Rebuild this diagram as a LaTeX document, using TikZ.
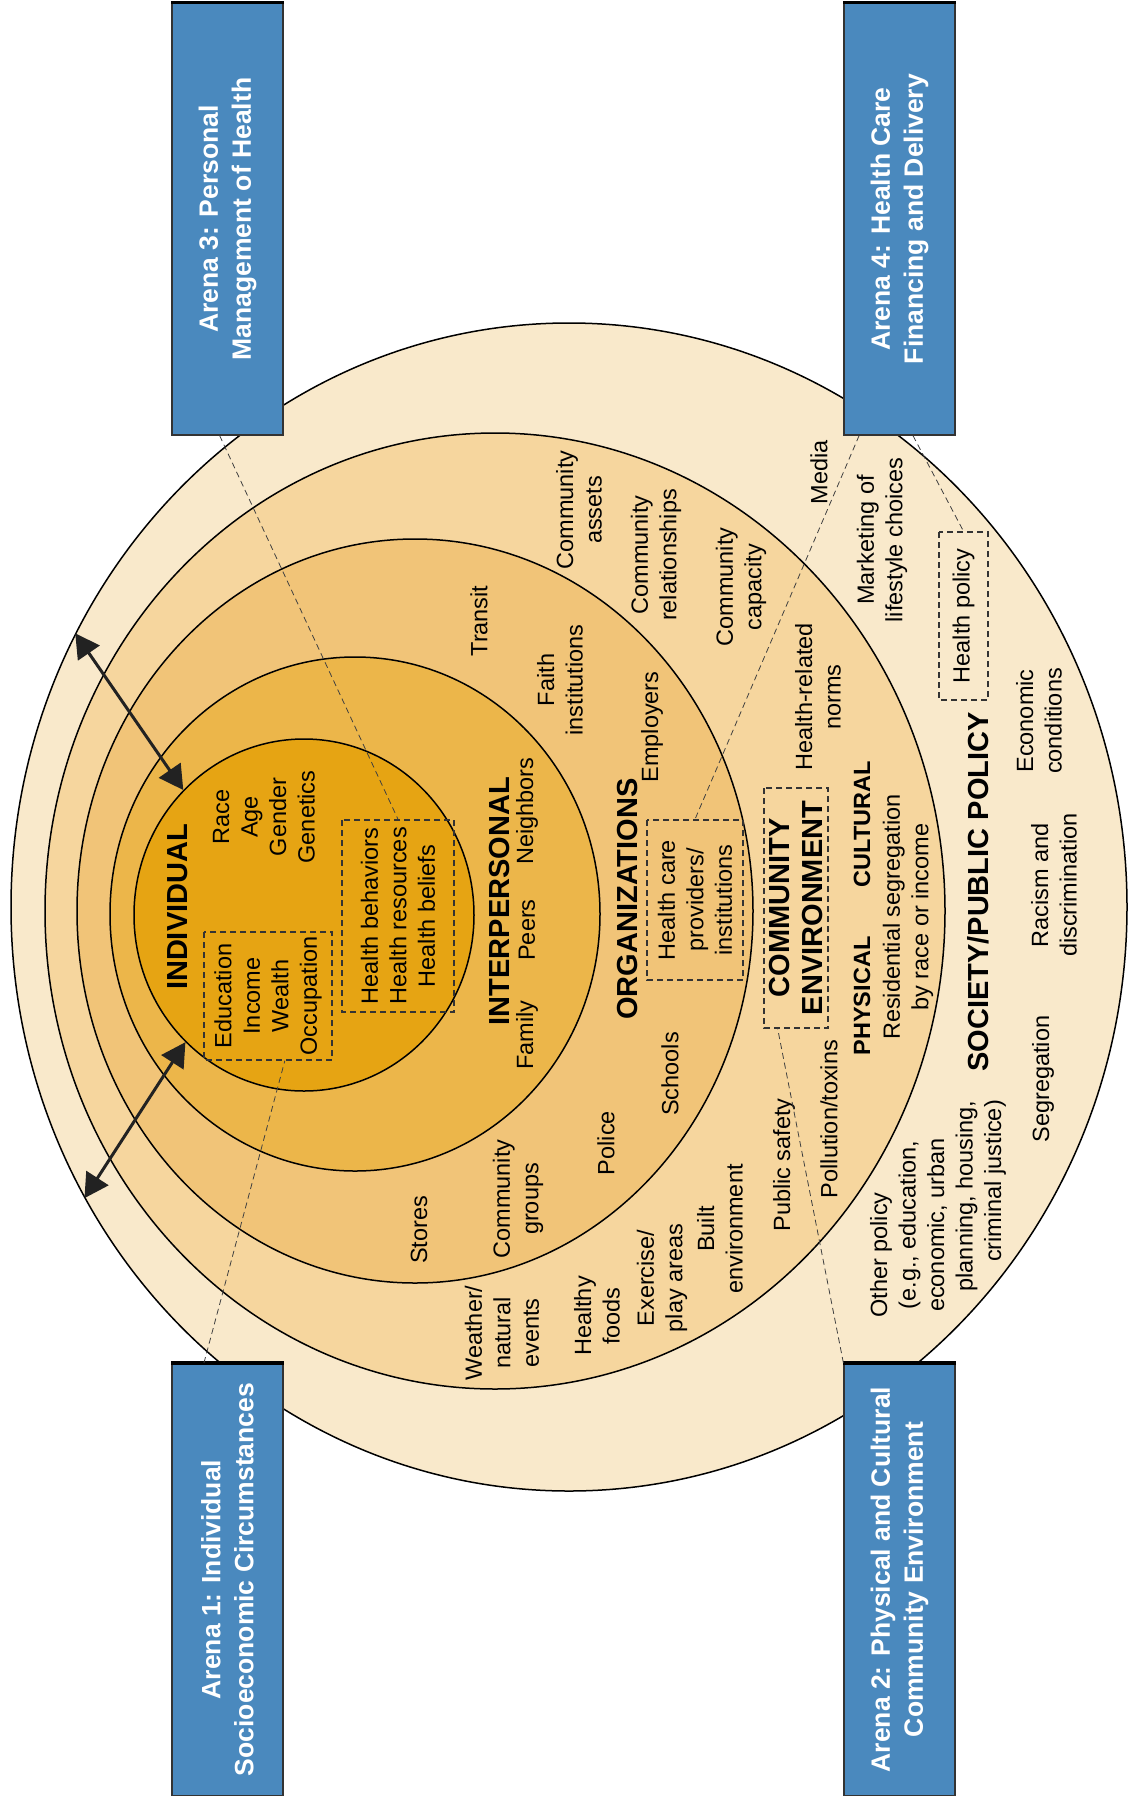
\documentclass[tikz,border=0pt]{standalone}
\usepackage{fontspec}
\setmainfont{Liberation Sans}
\usepackage{tikz}
\usetikzlibrary{calc,shapes.geometric,arrows.meta}
\definecolor{arenablue}{RGB}{74,137,190}
\definecolor{socfill}{RGB}{249,233,203}
\definecolor{comfill}{RGB}{246,214,158}
\definecolor{orgfill}{RGB}{241,196,120}
\definecolor{perfill}{RGB}{236,182,74}
\definecolor{indfill}{RGB}{230,164,19}
\definecolor{arrowgray}{RGB}{34,34,34}
\newcommand*\txtfont{\fontsize{23.5}{28.5}\selectfont}
\newcommand*\hdfont{\fontsize{29}{33}\selectfont\bfseries}
\newcommand*\subhdfont{\fontsize{23.5}{28.5}\selectfont\bfseries}
\newcommand*\arenafont{\fontsize{26.5}{33}\selectfont\bfseries}
\tikzset{
	>={Triangle[length=24pt, width=26pt]},
	layer/.style={
		ellipse,
		draw=black, line width=1.5pt,
		inner sep=0pt},
	arena/.style={
		rectangle,
		rotate=90,
		fill=arenablue,
		draw=black!80, line width=1.2pt,
		text=white, font=\arenafont,
		align=center,
		minimum width=432pt,
		minimum height=111pt,
		inner sep=0pt},
	lbl/.style={rotate=90, align=center, font=\txtfont, inner sep=0pt},
	hd/.style={rotate=90, align=center, font=\hdfont, inner sep=0pt},
	subhd/.style={rotate=90, align=center, font=\subhdfont, inner sep=0pt},
	dbox/.style={
		rectangle,
		rotate=90,
		draw=black!80, line width=1.5pt,
		dash pattern=on 6pt off 4pt,
		align=center,
		inner sep=0pt},
	link/.style={draw=black!75, line width=0.8pt, dash pattern=on 6pt off 4pt},
	biarrow/.style={<->, draw=arrowgray, line width=3pt},
	topedge/.style={draw=black, line width=3.5pt},
}

\begin{document}
\begin{tikzpicture}[x=1pt, y=-1pt]
\useasboundingbox (0,0) rectangle (1131,1796);

\node[layer, fill=socfill, minimum width=1116pt, minimum height=1168pt] (society) at (569,907) {};
\node[layer, fill=comfill, minimum width=900pt, minimum height=956pt] (community) at (495,911) {};
\node[layer, fill=orgfill, minimum width=676pt, minimum height=744pt] (organizations) at (415,911) {};
\node[layer, fill=perfill, minimum width=490pt, minimum height=514pt] (interpersonal) at (355,914) {};
\node[layer, fill=indfill, minimum width=340pt, minimum height=352pt] (individual) at (304,915) {};

\node[hd] (indtitle) at (178,907) {INDIVIDUAL};
\node[lbl] (traits) at (264,817) {Race\\Age\\Gender\\Genetics};
\node[dbox, font=\txtfont, minimum width=128pt, minimum height=128pt] (edu) at (268,996) {Education\\Income\\Wealth\\Occupation};
\node[dbox, font=\txtfont, minimum width=192pt, minimum height=112pt] (hbox) at (398,916) {Health behaviors\\Health resources\\Health beliefs};

\node[hd] (pertitle) at (500,901) {INTERPERSONAL};
\node[lbl] (family) at (527,1035) {Family};
\node[lbl] (peers) at (527,930) {Peers};
\node[lbl] (neighbors) at (527,811) {Neighbors};

\node[hd] (orgtitle) at (628,899) {ORGANIZATIONS};
\node[dbox, font=\txtfont, minimum width=160pt, minimum height=96pt] (hcare) at (695,900) {Health care\\providers/\\institutions};
\node[lbl] (transit) at (479,621) {Transit};
\node[lbl] (faith) at (560,680) {Faith\\institutions};
\node[lbl] (employers) at (652,727) {Employers};
\node[lbl] (schools) at (670,1074) {Schools};
\node[lbl] (police) at (606,1143) {Police};
\node[lbl] (comgroups) at (518,1199) {Community\\groups};
\node[lbl] (stores) at (419,1230) {Stores};

\node[dbox, font=\hdfont, minimum width=240pt, minimum height=64pt] (commenv) at (796,908) {COMMUNITY\\ENVIRONMENT};
\node[subhd] (physical) at (862,996) {PHYSICAL};
\node[subhd] (cultural) at (862,824) {CULTURAL};
\node[lbl] (residential) at (908,917) {Residential segregation\\by race or income};
\node[lbl] (assets) at (579,510) {Community\\assets};
\node[lbl] (relations) at (656,555) {Community\\relationships};
\node[lbl] (capacity) at (741,587) {Community\\capacity};
\node[lbl] (norms) at (818,697) {Health-related\\norms};
\node[lbl] (pollution) at (829,1119) {Pollution/toxins};
\node[lbl] (safety) at (784,1165) {Public safety};
\node[lbl] (built) at (720,1229) {Built\\environment};
\node[lbl] (exercise) at (662,1278) {Exercise/\\play areas};
\node[lbl] (foods) at (597,1316) {Healthy\\foods};
\node[lbl] (weather) at (502,1333) {Weather/\\natural\\events};

\node[hd] (soctitle) at (978,892) {SOCIETY/PUBLIC POLICY};
\node[lbl] (media) at (819,472) {Media};
\node[lbl] (marketing) at (882,540) {Marketing of\\lifestyle choices};
\node[dbox, font=\txtfont, minimum width=168pt, minimum height=49pt] (hpol) at (963.5,616) {Health policy};
\node[lbl] (economic) at (1039,721) {Economic\\conditions};
\node[lbl] (racism) at (1054,885) {Racism and\\discrimination};
\node[lbl] (segregation) at (1043,1079) {Segregation};
\node[lbl] (otherpol) at (938,1225) {Other policy\hspace*{60pt}\\(e.g., education,\hspace*{12pt}\\economic, urban\hspace*{12pt}\\\hspace*{58pt}planning, housing,\\\hspace*{88pt}criminal justice)};

\draw[biarrow] (society.151) -- (individual.134);
\draw[biarrow] (individual.227) -- (society.211);

\node[arena] (arena3) at (227.5,219) {Arena 3: Personal\\Management of Health};
\node[arena] (arena4) at (899.5,219) {Arena 4: Health Care\\Financing and Delivery};
\node[arena] (arena1) at (227.5,1579.5) {Arena 1: Individual\\Socioeconomic Circumstances};
\node[arena] (arena2) at (899.5,1579.5) {Arena 2: Physical and Cultural\\Community Environment};
\draw[topedge] (arena3.north east) -- (arena3.south east);
\draw[topedge] (arena4.north east) -- (arena4.south east);
\draw[topedge] (arena1.north east) -- (arena1.south east);
\draw[topedge] (arena2.north east) -- (arena2.south east);

\draw[link] ($(arena3.north west)!.43!(arena3.south west)$) -- (hbox.east);
\draw[link] ($(arena4.north west)!.14!(arena4.south west)$) -- (hcare.east);
\draw[link] ($(arena4.north west)!.62!(arena4.south west)$) -- (hpol.east);
\draw[link] ($(arena1.north east)!.29!(arena1.south east)$) -- ($(edu.north west)!.63!(edu.south west)$);
\draw[link] (arena2.north east) -- ($(commenv.north west)!.22!(commenv.south west)$);
\end{tikzpicture}
\end{document}
